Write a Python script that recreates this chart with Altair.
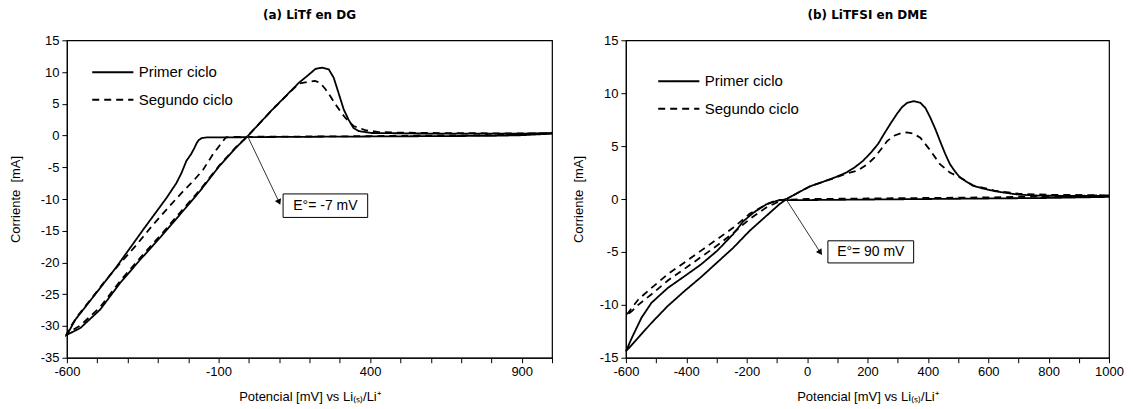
import altair as alt
import pandas as pd

# ---------------- (a) LiTf en DG ----------------
A_PRIMER_X = [1000, 900, 800, 600, 400, 200, 0, -60, -110, -140, -155, -165, -172, -180, -190, -206, -222, -239,
              -271, -348, -435, -490, -572, -594, -600,
              -555, -490, -424, -359, -293, -228, -162, -97, -42, -4, 78, 165, 198, 220, 242, 264, 280, 296, 313,
              329, 345, 362, 405, 500, 600, 800, 900, 1000]
A_PRIMER_Y = [0.3, 0.05, -0.05, -0.1, -0.15, -0.2, -0.25, -0.3, -0.3, -0.3, -0.4, -0.7, -1.2, -2.0, -2.9, -4.0, -5.9,
              -7.5, -9.8, -14.8, -20.6, -24.0, -29.0, -30.9, -31.4,
              -30.3, -27.4, -23.2, -19.6, -16.1, -12.5, -8.8, -4.8, -1.9, -0.1, 4.1, 8.3, 9.6, 10.5, 10.7, 10.4, 9.1,
              6.7, 4.1, 2.5, 1.2, 0.7, 0.4, 0.35, 0.3, 0.3, 0.3, 0.4]
A_SEGUNDO_X = [1000, 800, 600, 400, 200, 0, -50, -75, -86, -100, -119, -151, -184, -217, -261, -315, -370, -424,
               -479, -523, -566, -590, -600,
               -555, -490, -424, -359, -293, -228, -162, -97, -42, -4, 78, 165, 200, 218, 235, 253, 270, 286, 302,
               318, 345, 384, 428, 500, 600, 800, 1000]
A_SEGUNDO_Y = [0.35, 0.05, 0.0, -0.1, -0.15, -0.2, -0.2, -0.3, -0.9, -1.8, -3.0, -5.4, -7.2, -8.8, -11.1, -14.0,
               -17.2, -20.1, -23.2, -25.9, -28.5, -30.3, -31.2,
               -29.9, -27.0, -22.9, -19.3, -15.8, -12.2, -8.6, -4.7, -1.8, -0.1, 4.1, 8.2, 8.5, 8.6, 8.3, 7.3, 6.1,
               4.9, 3.8, 2.8, 1.5, 0.85, 0.55, 0.45, 0.4, 0.35, 0.35]

# ---------------- (b) LiTFSI en DME ----------------
B_PRIMER_X = [1000, 900, 800, 600, 400, 200, 0, -92, -135, -178, -211, -244, -298, -352, -406, -461, -515, -548,
              -580, -600,
              -559, -515, -461, -406, -352, -298, -244, -190, -135, -92, -65, -30, 10, 50, 93, 130, 158, 185, 212,
              235, 256, 278, 299, 315, 332, 353, 375, 392, 408, 425, 440, 457, 473, 490, 506, 530, 549, 581, 620,
              647, 701, 777, 875, 1000]
B_PRIMER_Y = [0.2, 0.15, 0.1, 0.05, 0.0, -0.05, -0.1, -0.1, -0.5, -1.3, -2.1, -3.3, -4.9, -6.2, -7.3, -8.4, -9.8,
              -11.2, -13.1, -14.4,
              -13.1, -11.7, -10.1, -8.7, -7.4, -6.0, -4.6, -3.0, -1.6, -0.5, 0.05, 0.6, 1.2, 1.6, 2.05, 2.5, 3.0,
              3.6, 4.4, 5.2, 6.2, 7.2, 8.1, 8.7, 9.1, 9.25, 9.1, 8.6, 7.7, 6.6, 5.5, 4.3, 3.3, 2.6, 2.05, 1.6, 1.26,
              1.0, 0.75, 0.63, 0.41, 0.31, 0.3, 0.3]
B_SEGUNDO_X = [1000, 800, 600, 400, 200, 0, -100, -135, -190, -244, -298, -352, -406, -461, -515, -559, -591, -600,
               -580, -559, -515, -461, -406, -352, -298, -244, -190, -135, -90, -65, -30, 10, 50, 93, 130, 169, 200,
               223, 245, 266, 290, 310, 330, 350, 375, 408, 440, 473, 506, 549, 620, 700, 800, 1000]
B_SEGUNDO_Y = [0.35, 0.25, 0.15, 0.1, 0.05, 0.0, -0.1, -0.5, -1.4, -2.7, -3.8, -4.9, -6.0, -7.1, -8.4, -9.5, -10.7,
               -11.0,
               -10.6, -10.0, -9.0, -7.7, -6.6, -5.5, -4.4, -3.2, -1.9, -0.8, -0.2, 0.05, 0.6, 1.2, 1.6, 2.0, 2.4,
               2.7, 3.3, 3.9, 4.7, 5.5, 6.0, 6.2, 6.3, 6.2, 5.8, 4.6, 3.3, 2.5, 2.05, 1.3, 0.8, 0.5, 0.4, 0.35]

SERIES = ["Primer ciclo", "Segundo ciclo"]

# annotation: crossing point, arrow end, box corners, label
ANN_A = dict(text="E°= -7 mV", px=-5, py=0.0, ax=100, ay=-10.5, bx1=113, bx2=392, by1=-9.2, by2=-12.9, angle=156)
ANN_B = dict(text="E°= 90 mV", px=-70, py=0.0, ax=44, ay=-5.06, bx1=69, bx2=353, by1=-3.95, by2=-6.04, angle=146)

FONT = "Liberation Sans"
H = 318


def make_df(c1x, c1y, c2x, c2y):
    rows = []
    for name, xs, ys in [(SERIES[0], c1x, c1y), (SERIES[1], c2x, c2y)]:
        for i, (xv, yv) in enumerate(zip(xs, ys)):
            rows.append({"x": xv, "y": yv, "ciclo": name, "idx": i})
    return pd.DataFrame(rows)


def panel(title, df, ydom, xlabel_expr, xtitle, ann, legx, legy, ytitle_pad, width):
    xscale = alt.Scale(domain=[-600, 1000], nice=False, zero=False)
    yscale = alt.Scale(domain=ydom, nice=False, zero=False)
    xaxis = alt.Axis(values=list(range(-600, 1001, 100)), labelExpr=xlabel_expr, title=xtitle,
                     titlePadding=12, labelPadding=3, labelOverlap=False, labelFlush=False, grid=False)
    yaxis = alt.Axis(values=list(range(ydom[0], ydom[1] + 1, 5)), labelExpr="'' + datum.value",
                     title="Corriente\u00a0 [mA]", titlePadding=ytitle_pad, labelPadding=3,
                     labelOverlap=False, labelFlush=False, grid=False)

    def X(f):
        return alt.X(f, type="quantitative", scale=xscale, axis=xaxis)

    def Y(f):
        return alt.Y(f, type="quantitative", scale=yscale, axis=yaxis)

    lines = alt.Chart(df).mark_line(color="black", strokeWidth=1.8).encode(
        x=X("x"),
        y=Y("y"),
        strokeDash=alt.StrokeDash(
            "ciclo:N",
            scale=alt.Scale(domain=SERIES, range=[[1, 0], [7, 5]]),
            legend=alt.Legend(title=None, orient="none", legendX=legx, legendY=legy,
                              symbolType="stroke", symbolSize=1700, symbolStrokeWidth=2,
                              symbolStrokeColor="black", labelFont=FONT, labelFontSize=15,
                              labelColor="black", labelOffset=4, clipHeight=22, rowPadding=5.5,
                              padding=0),
        ),
        order="idx:Q",
    )

    adf = pd.DataFrame([ann])
    arrow = alt.Chart(adf).mark_rule(color="#333333", strokeWidth=1).encode(
        x=X("px"), y=Y("py"), x2="ax:Q", y2="ay:Q")
    head = alt.Chart(adf).mark_point(shape="triangle-up", filled=True, color="black", size=45, opacity=1,
                                     angle=ann["angle"]).encode(x=X("ax"), y=Y("ay"))
    box = alt.Chart(adf).mark_rect(fill="white", stroke="black", strokeWidth=1).encode(
        x=X("bx1"), x2="bx2:Q", y=Y("by1"), y2="by2:Q")
    label = alt.Chart(adf).transform_calculate(
        cx="(datum.bx1 + datum.bx2) / 2", cy="(datum.by1 + datum.by2) / 2"
    ).mark_text(font=FONT, fontSize=14, color="black", baseline="middle", align="center").encode(
        x=X("cx"), y=Y("cy"), text="text:N")

    return alt.layer(lines, arrow, box, head, label).properties(
        width=width, height=H,
        title=alt.TitleParams(title, font="DejaVu Sans", fontSize=12, fontWeight="bold", color="black",
                              offset=12, anchor="middle"),
    )


left = panel("(a) LiTf en DG", make_df(A_PRIMER_X, A_PRIMER_Y, A_SEGUNDO_X, A_SEGUNDO_Y), [-35, 15],
             "(datum.value + 600) % 500 == 0 ? '' + datum.value : ''",
             "Potencial [mV] vs Li₍ₛ₎/Li⁺", ANN_A, 24, 21, 18, 486)
right = panel("(b) LiTFSI en DME", make_df(B_PRIMER_X, B_PRIMER_Y, B_SEGUNDO_X, B_SEGUNDO_Y), [-15, 15],
              "datum.value % 200 == 0 ? '' + datum.value : ''",
              "Potencial [mV]  vs Li₍ₛ₎/Li⁺", ANN_B, 31, 30, 14, 484)

chart = alt.hconcat(left, right, spacing=14).resolve_scale(
    strokeDash="independent"
).resolve_legend(strokeDash="independent").properties(
    padding={"left": 0, "top": 0, "right": 0, "bottom": 0}
).configure_view(stroke="black", strokeWidth=1.2).configure_axis(
    grid=False, domainColor="black", tickColor="black", tickSize=5, tickWidth=1,
    labelFont=FONT, labelFontSize=13, labelColor="black", labelOverlap=False, labelFlush=False,
    titleFont=FONT, titleFontSize=13, titleFontWeight="normal", titleColor="black",
)

chart.save("out.html", embed_options={"renderer": "svg", "actions": False})
